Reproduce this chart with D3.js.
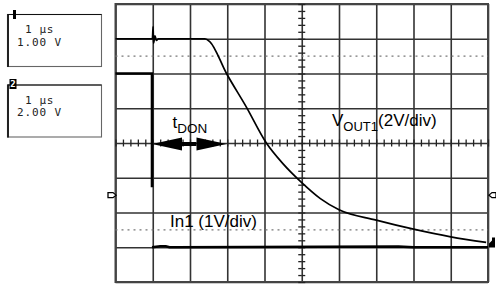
<!DOCTYPE html>
<html>
<head>
<meta charset="utf-8">
<script src="https://cdn.jsdelivr.net/npm/d3@7"></script>
<style>
  body { margin: 0; background: #fff; }
  svg { display: block; }
  .lbl { font-family: "Liberation Sans", Arial, sans-serif; fill: #000; }
  .mono { font-family: "DejaVu Sans Mono", monospace; font-size: 11px; fill: #222; }
</style>
</head>
<body>
<script>
// scope screen: time in us (1 us/div), amplitude in screen divisions
var vout1T = [0, 0.93, 0.99, 1.01, 1.02, 1.06, 1.1, 1.15, 2.40, 2.53, 2.98, 3.51, 4.05, 4.5, 5.0, 5.5, 6.0, 7.0, 8.0, 9.0, 9.95];
var vout1V = [3.0, 3.0, 3.0, 3.35, 2.87, 3.08, 2.95, 3.0, 3.0, 2.92, 2.0, 1.04, 0, -0.6, -1.14, -1.6, -1.92, -2.22, -2.48, -2.70, -2.86];

var in1HighT = [0, 0.98, 0.98];
var in1HighV = [2.0, 2.0, -1.27];
var in1LowT = [0.98, 1.2, 1.35, 1.45, 1.6, 7.6, 8.0, 10.0];
var in1LowV = [-3.0, -2.97, -2.97, -3.0, -3.0, -2.98, -3.0, -3.0];

var refLevels = [2.5, -2.5];          // dotted reference lines
var groundLevel = -1.5;               // side markers
var tdonStart = 0.98, tdonEnd = 2.98; // t_DON arrow

var panels = [
  {ch: "1", time: "1 \u03bcs", volts: "1.00 V"},
  {ch: "2", time: "1 \u03bcs", volts: "2.00 V"}
];

var svg = d3.select("body").append("svg")
    .attr("width", 496)
    .attr("height", 288);

var x = d3.scaleLinear().domain([0, 10]).range([115.5, 488]);
var y = d3.scaleLinear().domain([-4, 4]).range([282, 4]);

// grid
var gx = svg.append("g")
    .attr("transform", "translate(0," + y(-4) + ")")
    .call(d3.axisBottom(x).tickValues(d3.range(0, 11)).tickSize(-(y(-4) - y(4))).tickFormat(""));
var gy = svg.append("g")
    .attr("transform", "translate(" + x(0) + ",0)")
    .call(d3.axisLeft(y).tickValues(d3.range(-4, 5)).tickSize(-(x(10) - x(0))).tickFormat(""));
[gx, gy].forEach(function (g) {
  g.select(".domain").remove();
  g.selectAll("line").attr("stroke", "#333").attr("stroke-width", 1.6);
});

svg.append("rect")
    .attr("x", x(0)).attr("y", y(4))
    .attr("width", x(10) - x(0)).attr("height", y(-4) - y(4))
    .attr("fill", "none").attr("stroke", "#444").attr("stroke-width", 2);

// centre axes with minor ticks
var minorX = d3.range(0, 10.001, 0.2);
var minorY = d3.range(-4, 4.001, 0.2);
var centre = [
  svg.append("g").attr("transform", "translate(0," + y(0) + ")").call(d3.axisBottom(x).tickValues(minorX).tickSize(3.5).tickSizeOuter(0).tickFormat("")),
  svg.append("g").attr("transform", "translate(0," + y(0) + ")").call(d3.axisTop(x).tickValues(minorX).tickSize(3.5).tickSizeOuter(0).tickFormat("")),
  svg.append("g").attr("transform", "translate(" + x(5) + ",0)").call(d3.axisLeft(y).tickValues(minorY).tickSize(3.5).tickSizeOuter(0).tickFormat("")),
  svg.append("g").attr("transform", "translate(" + x(5) + ",0)").call(d3.axisRight(y).tickValues(minorY).tickSize(3.5).tickSizeOuter(0).tickFormat(""))
];
centre.forEach(function (g) {
  g.select(".domain").remove();
  g.selectAll("line").attr("stroke", "#222").attr("stroke-width", 1.3);
});

// dotted reference levels
svg.selectAll(".ref")
    .data(refLevels)
    .enter().append("line")
    .attr("class", "ref")
    .attr("x1", x(0)).attr("x2", x(10))
    .attr("y1", function (d) { return y(d); })
    .attr("y2", function (d) { return y(d); })
    .attr("stroke", "#777")
    .attr("stroke-width", 1.2)
    .attr("stroke-dasharray", "2,4");

// traces
var line = d3.line()
    .x(function (d) { return x(d[0]); })
    .y(function (d) { return y(d[1]); });
var smooth = d3.line()
    .x(function (d) { return x(d[0]); })
    .y(function (d) { return y(d[1]); })
    .curve(d3.curveMonotoneX);

svg.append("path")
    .datum(d3.zip(in1HighT, in1HighV))
    .attr("d", line)
    .attr("fill", "none").attr("stroke", "#000").attr("stroke-width", 2.6);
svg.append("path")
    .datum(d3.zip(in1LowT, in1LowV))
    .attr("d", line)
    .attr("fill", "none").attr("stroke", "#000").attr("stroke-width", 2.6);
svg.append("path")
    .datum(d3.zip(vout1T, vout1V))
    .attr("d", smooth)
    .attr("fill", "none").attr("stroke", "#000").attr("stroke-width", 1.7)
    .attr("stroke-linejoin", "round");

// side markers
var gy0 = y(groundLevel);
svg.append("path")
    .attr("d", "M108," + (gy0 - 2.5) + "L113," + (gy0 - 2.5) + "L116," + gy0 + "L113," + (gy0 + 2.5) + "L108," + (gy0 + 2.5) + "Z")
    .attr("fill", "#fff").attr("stroke", "#000").attr("stroke-width", 1.3);
svg.append("path")
    .attr("d", "M496," + (gy0 - 2.5) + "L492," + (gy0 - 2.5) + "L489," + gy0 + "L492," + (gy0 + 2.5) + "L496," + (gy0 + 2.5) + "Z")
    .attr("fill", "#fff").attr("stroke", "#000").attr("stroke-width", 1.3);
var ey = y(vout1V[vout1V.length - 1]);
svg.append("path")
    .attr("d", "M489," + (ey + 1) + "L492," + (ey - 2) + "L492," + (ey - 5) + "L495," + (ey - 5) + "L495," + (ey + 5) + "L489," + (ey + 5) + "Z")
    .attr("fill", "#000");

// t_DON arrow
var ay = y(0) + 1, aL = x(tdonStart), aR = x(tdonEnd), head = 30, hh = 6.5;
svg.append("path")
    .attr("d", "M" + aL + "," + ay + "L" + (aL + head) + "," + (ay - hh) + "L" + (aL + head) + "," + (ay + hh) + "Z" +
               "M" + aR + "," + ay + "L" + (aR - head) + "," + (ay - hh) + "L" + (aR - head) + "," + (ay + hh) + "Z")
    .attr("fill", "#000");
svg.append("line")
    .attr("x1", aL + head).attr("x2", aR - head)
    .attr("y1", ay).attr("y2", ay)
    .attr("stroke", "#000").attr("stroke-width", 4);

// labels
var t1 = svg.append("text").attr("class", "lbl").attr("x", 172.5).attr("y", 128).style("font-size", "17px");
t1.append("tspan").text("t");
t1.append("tspan").attr("dy", 5).style("font-size", "13.5px").text("DON");

var t2 = svg.append("text").attr("class", "lbl").attr("x", 332).attr("y", 126).style("font-size", "17px");
t2.append("tspan").text("V");
t2.append("tspan").attr("dy", 5).style("font-size", "13px").text("OUT1");
t2.append("tspan").attr("dy", -5).text("(2V/div)");

svg.append("text").attr("class", "lbl").attr("x", 170).attr("y", 226.5)
    .style("font-size", "17px").text("In1 (1V/div)");

// channel panels
var pg = svg.selectAll(".panel")
    .data(panels)
    .enter().append("g")
    .attr("class", "panel")
    .attr("transform", function (d, i) { return "translate(0," + (i * 70.5) + ")"; });

pg.append("rect")
    .attr("x", 7.5).attr("y", 14.5).attr("width", 94).attr("height", 52)
    .attr("fill", "#fff").attr("stroke", "#666").attr("stroke-width", 1.1);
pg.append("line")
    .attr("x1", 8).attr("x2", 8).attr("y1", 14).attr("y2", 67)
    .attr("stroke", "#222").attr("stroke-width", 2);
pg.append("line")
    .attr("x1", 8).attr("x2", 101.5).attr("y1", 14.5).attr("y2", 14.5)
    .attr("stroke", "#111").attr("stroke-width", 1.2);
pg.append("text").attr("class", "mono").attr("x", 25).attr("y", 33)
    .style("letter-spacing", "0.6px").text(function (d) { return d.time; });
pg.append("text").attr("class", "mono").attr("x", 17).attr("y", 45.5)
    .style("letter-spacing", "0.9px").text(function (d) { return d.volts; });

pg.filter(function (d) { return d.ch === "1"; }).append("rect")
    .attr("x", 13).attr("y", 10).attr("width", 3).attr("height", 9).attr("fill", "#000");
var m2 = pg.filter(function (d) { return d.ch === "2"; });
m2.append("rect")
    .attr("x", 9.5).attr("y", 8.5).attr("width", 7).attr("height", 10).attr("fill", "#000");
m2.append("text")
    .attr("x", 13).attr("y", 16.5).attr("text-anchor", "middle")
    .style("font-family", "DejaVu Sans Mono, monospace").style("font-size", "9px").style("font-weight", "bold")
    .attr("fill", "#fff").text(function (d) { return d.ch; });
</script>
</body>
</html>
